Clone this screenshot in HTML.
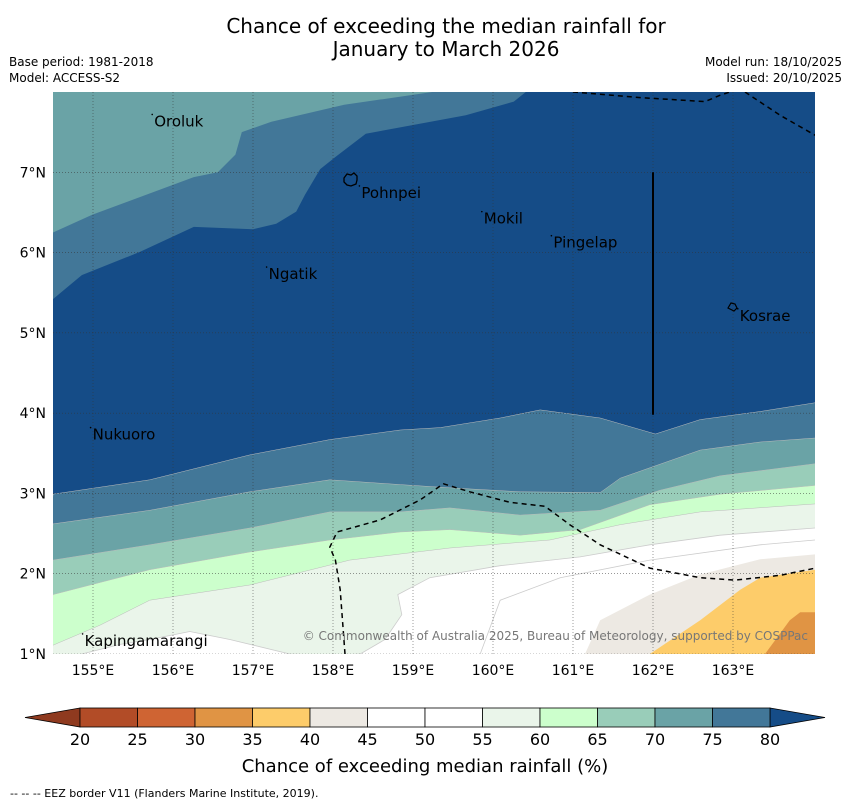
<!DOCTYPE html>
<html><head><meta charset="utf-8"><style>
body{margin:0;background:#fff;}
svg{display:block;font-family:"DejaVu Sans","Liberation Sans",sans-serif;}
</style></head><body>
<svg id="chart" width="850" height="804" viewBox="0 0 850 804">
<text x="446" y="33" font-size="20" text-anchor="middle">Chance of exceeding the median rainfall for</text>
<text x="446" y="56" font-size="20" text-anchor="middle">January to March 2026</text>
<text x="9" y="66" font-size="12">Base period: 1981-2018</text>
<text x="9" y="82" font-size="12">Model: ACCESS-S2</text>
<text x="842" y="66" font-size="12" text-anchor="end">Model run: 18/10/2025</text>
<text x="842" y="82" font-size="12" text-anchor="end">Issued: 20/10/2025</text>
<defs><clipPath id="mapclip"><rect x="53" y="92" width="762" height="562"/></clipPath></defs>
<g id="map" clip-path="url(#mapclip)"></g>
<g id="overlay"></g>
<text x="10" y="797" font-size="11">--  --  -- EEZ border V11 (Flanders Marine Institute, 2019).</text>
</svg>
<script>
// Axis domain
const lonMin=154.5, lonMax=164.025, latMin=1.0, latMax=8.0;
const lonTicks=[155,156,157,158,159,160,161,162,163];
const latTicks=[1,2,3,4,5,6,7];
// Contour boundaries (lon, lat)
const top70Lon=[154.5,154.99,156.26,156.56,156.78,156.86,157.23,158.14,159.24];
const top70Lat=[6.25,6.47,6.94,7.0,7.22,7.50,7.63,7.84,8.0];
const top75Lon=[154.5,154.86,155.59,156.26,157.0,157.29,157.54,157.65,157.84,158.03,158.41,159.66,160.26,160.41];
const top75Lat=[5.42,5.72,6.01,6.32,6.29,6.36,6.51,6.72,7.04,7.19,7.48,7.71,7.88,8.0];
const b80Lon=[154.5,155.71,156.96,157.96,158.84,159.34,160.09,160.59,161.34,162.03,162.59,163.34,164.03];
const b80Lat=[2.99,3.17,3.48,3.67,3.79,3.82,3.94,4.04,3.94,3.74,3.92,4.02,4.13];
const b75Lon=[154.5,155.71,156.96,157.96,158.84,159.46,160.34,161.34,161.59,162.59,163.34,164.03];
const b75Lat=[2.62,2.79,3.02,3.17,3.11,3.07,3.02,3.01,3.19,3.54,3.64,3.69];
const b70Lon=[154.5,155.71,156.96,157.96,158.84,159.46,160.34,161.34,162.09,162.84,164.03];
const b70Lat=[2.17,2.36,2.57,2.77,2.77,2.82,2.73,2.79,3.04,3.22,3.37];
const b65Lon=[154.5,155.71,156.96,157.96,158.84,159.46,160.34,161.09,161.96,162.84,164.03];
const b65Lat=[1.74,2.05,2.27,2.42,2.52,2.55,2.48,2.55,2.86,2.99,3.10];
const b60Lon=[154.5,155.09,155.71,156.96,158.21,159.46,160.71,161.59,162.59,164.03];
const b60Lat=[1.11,1.36,1.67,1.86,2.17,2.32,2.42,2.61,2.77,2.87];
const b55Lon=[158.34,158.65,158.86,158.81,159.21,160.09,161.09,161.96,162.84,164.03];
const b55Lat=[1.0,1.18,1.49,1.74,1.95,2.10,2.21,2.36,2.48,2.57];
const patchLon=[154.86,155.34,155.71,156.21,156.71,157.46];
const patchLat=[1.0,1.12,1.18,1.28,1.18,1.0];
const c50Lon=[159.84,160.09,160.84,161.96,163.34,164.03];
const c50Lat=[1.0,1.67,1.95,2.17,2.36,2.42];
const b45Lon=[161.15,161.34,161.96,162.59,163.34,164.03];
const b45Lat=[1.0,1.42,1.74,1.99,2.18,2.24];
const b40Lon=[161.96,162.59,163.09,163.34,164.03];
const b40Lat=[1.0,1.42,1.80,1.95,2.05];
const b35Lon=[163.4,163.71,163.84,164.03];
const b35Lat=[1.0,1.42,1.52,1.52];
const eezLon=[158.15,158.09,158.03,157.96,158.05,158.59,159.09,159.38,159.71,160.21,160.65,160.96,161.34,161.96,162.59,163.03,163.59,164.03];
const eezLat=[1.0,1.80,2.17,2.33,2.52,2.67,2.92,3.12,3.02,2.89,2.84,2.61,2.36,2.07,1.95,1.92,1.98,2.07];
const eezTopLon=[161.0,161.84,162.65,162.84,162.96];
const eezTopLat=[8.0,7.93,7.88,7.96,8.0];
const eezNELon=[163.15,163.59,164.03];
const eezNELat=[8.0,7.71,7.46];
const placeNames=["Oroluk","Pohnpei","Mokil","Pingelap","Ngatik","Kosrae","Nukuoro","Kapingamarangi"];
const placeLon=[155.74,158.33,159.86,160.73,157.17,163.06,154.97,154.87];
const placeLat=[7.72,6.83,6.51,6.21,5.82,5.3,3.82,1.25];
// Colour bar
const cbLevels=[20,25,30,35,40,45,50,55,60,65,70,75,80];
const cbColors=["#b24c27","#cf6433","#e09444","#fdcc6a","#ede9e3","#ffffff","#ffffff","#eaf5ea","#ccffcc","#99cdb9","#6aa3a6","#427798"];

const X0=53,X1=815,Y0=92,Y1=654;
const xs=lon=>X0+(lon-lonMin)/(lonMax-lonMin)*(X1-X0);
const ys=lat=>Y1-(lat-latMin)/(latMax-latMin)*(Y1-Y0);
const NS="http://www.w3.org/2000/svg";
const map=document.getElementById('map'), ov=document.getElementById('overlay');
function mk(tag,attrs,parent){const e=document.createElementNS(NS,tag);for(const k in attrs)e.setAttribute(k,attrs[k]);parent.appendChild(e);return e;}
function pts(lons,lats){return lons.map((l,i)=>xs(l).toFixed(1)+','+ys(lats[i]).toFixed(1));}
function below(lons,lats){return pts(lons,lats).concat([xs(lonMax+0.2)+','+ys(latMin-0.2),xs(lonMin-0.2)+','+ys(latMin-0.2)]).join(' ');}

let e;
e=mk('rect',{x:X0,y:Y0,width:X1-X0,height:Y1-Y0,fill:'#154c87'},map);


e=mk('polygon',{points:pts(top75Lon,top75Lat).concat([xs(lonMin-0.2)+','+ys(latMax+0.2)]).join(' '),fill:'#427798'},map);


e=mk('polygon',{points:pts(top70Lon,top70Lat).concat([xs(lonMin-0.2)+','+ys(latMax+0.2)]).join(' '),fill:'#6aa3a6'},map);


const bands=[[b80Lon,b80Lat,'#427798','band-75-80'],[b75Lon,b75Lat,'#6aa3a6','band-70-75'],[b70Lon,b70Lat,'#99cdb9','band-65-70'],[b65Lon,b65Lat,'#ccffcc','band-60-65'],[b60Lon,b60Lat,'#eaf5ea','band-55-60']];
bands.forEach(b=>{
  e=mk('polygon',{points:below(b[0],b[1]),fill:b[2],stroke:'#bbb','stroke-width':0.5},map);
  
  
});
e=mk('polygon',{points:below(b55Lon,b55Lat),fill:'#ffffff',stroke:'#ccc','stroke-width':0.8},map);


e=mk('polygon',{points:below(patchLon,patchLat),fill:'#ffffff',stroke:'#ccc','stroke-width':0.8},map);


e=mk('polyline',{points:pts(c50Lon,c50Lat).join(' '),fill:'none',stroke:'#ccc','stroke-width':0.8},map);


[[b45Lon,b45Lat,'#ede9e3','band-40-45'],[b40Lon,b40Lat,'#fdcc6a','band-35-40'],[b35Lon,b35Lat,'#e09444','band-30-35']].forEach(b=>{
  e=mk('polygon',{points:below(b[0],b[1]),fill:b[2]},map);
  
  
});
// gridlines
lonTicks.forEach(l=>{
  e=mk('line',{x1:xs(l),x2:xs(l),y1:Y0,y2:Y1,stroke:'#333','stroke-width':0.6,'stroke-dasharray':'1,2','opacity':0.8},map);
  
  
  e=mk('text',{x:xs(l),y:675,'font-size':14,'text-anchor':'middle'},ov);
  e.textContent=l+'°E';
  
  
});
latTicks.forEach(l=>{
  e=mk('line',{x1:X0,x2:X1,y1:ys(l),y2:ys(l),stroke:'#333','stroke-width':0.6,'stroke-dasharray':'1,2','opacity':0.8},map);
  
  
  e=mk('text',{x:46,y:ys(l)+5,'font-size':14,'text-anchor':'end'},ov);
  e.textContent=l+'°N';
  
  
});
// EEZ
[[eezLon,eezLat],[eezTopLon,eezTopLat],[eezNELon,eezNELat]].forEach(s=>{
  e=mk('polyline',{points:pts(s[0],s[1]).join(' '),fill:'none',stroke:'#000','stroke-width':1.5,'stroke-dasharray':'5,4'},map);
  
  
});
e=mk('line',{x1:xs(162),x2:xs(162),y1:ys(7),y2:ys(3.98),stroke:'#000','stroke-width':2},map);


e=mk('path',{d:'M344,178 l3,-4 4,1 3,-2 3,3 0,4 -1,4 -5,2 -4,-1 -3,-3z',fill:'none',stroke:'#000','stroke-width':1.3},map);


e=mk('path',{d:'M728,308 l3,-5 4,1 2,4 -3,3z',fill:'none',stroke:'#000','stroke-width':1.2},map);


placeNames.forEach((n,i)=>{
  e=mk('text',{x:xs(placeLon[i])+2,y:ys(placeLat[i])+12,'font-size':15},map);
  e.textContent=n;
  
  
  e=mk('circle',{cx:xs(placeLon[i]),cy:ys(placeLat[i]),r:0.8,fill:'#000'},map);
  
  
});
e=mk('text',{x:808,y:640,'font-size':12,'text-anchor':'end',fill:'#777'},map);
e.textContent='© Commonwealth of Australia 2025, Bureau of Meteorology, supported by COSPPac';


// colour bar
const CB0=80,CBW=57.5,CBY=708,CBH=19;
const cx=v=>CB0+(v-cbLevels[0])/5*CBW;
e=mk('polygon',{points:`${CB0},${CBY} 25,${CBY+CBH/2} ${CB0},${CBY+CBH}`,fill:'#8f3a1f',stroke:'#000','stroke-width':0.8},ov);


e=mk('polygon',{points:`${cx(80)},${CBY} 825,${CBY+CBH/2} ${cx(80)},${CBY+CBH}`,fill:'#154c87',stroke:'#000','stroke-width':0.8},ov);


cbColors.forEach((c,i)=>{
  e=mk('rect',{x:cx(cbLevels[i]),y:CBY,width:cx(cbLevels[i+1])-cx(cbLevels[i]),height:CBH,fill:c,stroke:'#000','stroke-width':0.8},ov);
  
  
});
cbLevels.forEach(v=>{
  e=mk('text',{x:cx(v),y:745,'font-size':16,'text-anchor':'middle'},ov);
  e.textContent=v;
  
  
});
e=mk('text',{x:425,y:772,'font-size':18,'text-anchor':'middle'},ov);
e.textContent='Chance of exceeding median rainfall (%)';


</script>
</body></html>
